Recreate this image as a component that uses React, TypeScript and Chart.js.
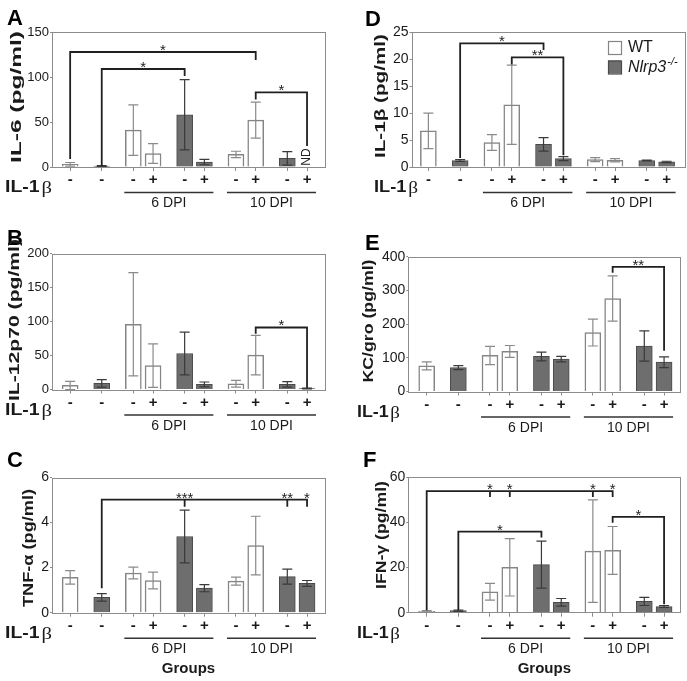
import React, { useEffect, useRef } from 'react';
import { Chart, registerables } from 'chart.js';

Chart.register(...registerables);

const SANS = '"Liberation Sans", Arial, Helvetica, sans-serif';
Chart.defaults.font.family = SANS;

// ---------- data ----------
const groups = ['Control', 'Control', '6 DPI', '6 DPI', '6 DPI', '6 DPI', '10 DPI', '10 DPI', '10 DPI', '10 DPI'];
const genotypes = ['WT', 'Nlrp3', 'WT', 'WT', 'Nlrp3', 'Nlrp3', 'WT', 'WT', 'Nlrp3', 'Nlrp3'];
const il1bTreatment = ['-', '-', '-', '+', '-', '+', '-', '+', '-', '+'];
const dpiGroups = ['6 DPI', '10 DPI'];

const il6Mean = [3, 1, 41, 15, 58, 5.5, 14, 52, 9.5, null]; // last: ND
const il6Err = [2, 0.6, 28, 11, 39, 3, 3.5, 20, 7.5, 0];
const il12Mean = [6, 9, 96, 35, 53, 7.5, 8.5, 50.5, 7.5, 1.5];
const il12Err = [6, 5.5, 76, 32, 31.5, 3.5, 5, 29, 4, 0.6];
const tnfMean = [1.57, 0.68, 1.76, 1.43, 3.38, 1.09, 1.4, 2.98, 1.6, 1.3];
const tnfErr = [0.3, 0.17, 0.26, 0.37, 1.17, 0.16, 0.18, 1.3, 0.33, 0.13];
const il1bMean = [6.7, 1.2, 4.55, 11.55, 4.2, 1.55, 1.37, 1.24, 1.2, 0.95];
const il1bErr = [3.3, 0.18, 1.45, 7.35, 1.27, 0.37, 0.37, 0.3, 0.08, 0.12];
const kcMean = [76, 71, 107, 119, 104, 96, 175, 276, 135, 87];
const kcErr = [12, 6, 27, 17.5, 13, 8, 40, 67, 45, 16];
const ifnMean = [0.6, 0.9, 9.3, 20.1, 21.3, 4.6, 27.3, 27.6, 5.0, 2.7];
const ifnErr = [0.3, 0.3, 3.7, 12.7, 10.4, 1.7, 22.7, 10.6, 1.8, 0.4];

const il6Ticks = [0, 150, 50];
const il12Ticks = [0, 200, 50];
const tnfTicks = [0, 6, 2];
const il1bTicks = [0, 25, 5];
const kcTicks = [0, 400, 100];
const ifnTicks = [0, 60, 20];

// significance brackets: y = bracket height (data units), legs end at data values
const il6Brackets = [
  { y: 127.8, legs: [{ at: 0, end: 10 }, { at: 7, end: 120 }], label: '*' },
  { y: 108.9, legs: [{ at: 1, end: 2.2 }, { at: 4, end: 102 }], label: '*' },
  { y: 83, legs: [{ at: 7, end: 76 }, { at: 9, end: 24.4 }], label: '*' },
];
const il12Brackets = [
  { y: 91.2, legs: [{ at: 7, end: 83.2 }, { at: 9, end: 3.4 }], label: '*' },
];
const tnfBrackets = [
  { y: 5.02, legs: [{ at: 1, end: 1.12 }, { at: 4, end: 4.74, label: '***' }, { at: 8, end: 4.74, label: '**' }, { at: 9, end: 4.74, label: '*' }] },
];
const il1bBrackets = [
  { y: 22.95, legs: [{ at: 1, end: 1.86 }, { at: 4, end: 21.9 }], label: '*' },
  { y: 20.35, legs: [{ at: 3, end: 19.2 }, { at: 5, end: 2.36 }], label: '**' },
];
const kcBrackets = [
  { y: 370, legs: [{ at: 7, end: 355 }, { at: 9, end: 123.5 }], label: '**' },
];
const ifnBrackets = [
  { y: 53.9, legs: [{ at: 0, end: 1.5 }, { at: 2, end: 51.7, label: '*' }, { at: 3, end: 51.7, label: '*' }, { at: 6, end: 51.7, label: '*' }, { at: 7, end: 51.7, label: '*' }] },
  { y: 35.9, legs: [{ at: 1, end: 1.5 }, { at: 4, end: 33.7 }], label: '*' },
  { y: 42.5, legs: [{ at: 7, end: 40.3 }, { at: 9, end: 4.1 }], label: '*' },
];

// ---------- layout / style ----------
const slotX = [0, 8, 16, 21, 29, 34, 42, 47, 55, 60];
const FRAME = '#8c8c8c';
const WT_BORDER = '#858585';
const KO_FILL = '#6e6e6e';
const KO_BORDER = '#4a4a4a';
const ERR_WT = '#8a8a8a';
const ERR_KO = '#3a3a3a';
const INK = '#1a1a1a';

type Leg = { at: number; end: number; label?: string };
type Bracket = { y: number; legs: Leg[]; label?: string };

type Spec = {
  letter: string; letterX: number; letterY: number;
  yTitle: string; titleLen: number; titleX: number; titleY: number;
  mean: (number | null)[]; err: number[]; ticks: number[]; tickSize: number;
  brackets: Bracket[];
  canvas: { x: number; y: number; w: number; h: number };
  area: { l: number; r: number; t: number; b: number };
  xMin: number; xMax: number;
  il1bX: number; il1bLen: number;
  groupsTitle?: boolean; legend?: boolean;
};

const specs: Spec[] = [
  {
    letter: 'A', letterX: 7, letterY: 25, yTitle: 'IL-6 (pg/ml)', titleLen: 132, titleX: 17, titleY: 97,
    mean: il6Mean, err: il6Err, ticks: il6Ticks, tickSize: 13, brackets: il6Brackets,
    canvas: { x: 0, y: 0, w: 340, h: 225 }, area: { l: 52, r: 325, t: 32, b: 167 },
    xMin: -4.6, xMax: 64.55, il1bX: 5, il1bLen: 47,
  },
  {
    letter: 'B', letterX: 7, letterY: 245, yTitle: 'IL-12p70 (pg/ml)', titleLen: 162, titleX: 15, titleY: 320,
    mean: il12Mean, err: il12Err, ticks: il12Ticks, tickSize: 13, brackets: il12Brackets,
    canvas: { x: 0, y: 225, w: 340, h: 225 }, area: { l: 52, r: 325, t: 253.5, b: 389.5 },
    xMin: -4.6, xMax: 64.55, il1bX: 5, il1bLen: 47,
  },
  {
    letter: 'C', letterX: 7, letterY: 467, yTitle: 'TNF-\u03b1 (pg/ml)', titleLen: 118, titleX: 29, titleY: 548,
    mean: tnfMean, err: tnfErr, ticks: tnfTicks, tickSize: 14, brackets: tnfBrackets,
    canvas: { x: 0, y: 450, w: 340, h: 231 }, area: { l: 52, r: 325, t: 477.5, b: 612.7 },
    xMin: -4.6, xMax: 64.55, il1bX: 5, il1bLen: 47, groupsTitle: true,
  },
  {
    letter: 'D', letterX: 365, letterY: 26, yTitle: 'IL-1\u03b2 (pg/ml)', titleLen: 124, titleX: 381, titleY: 96,
    mean: il1bMean, err: il1bErr, ticks: il1bTicks, tickSize: 14, brackets: il1bBrackets,
    canvas: { x: 340, y: 0, w: 347, h: 225 }, area: { l: 411.5, r: 684.5, t: 32.3, b: 167 },
    xMin: -4.25, xMax: 64.5, il1bX: 374, il1bLen: 44, legend: true,
  },
  {
    letter: 'E', letterX: 365, letterY: 250, yTitle: 'KC/gro (pg/ml)', titleLen: 123, titleX: 369, titleY: 321,
    mean: kcMean, err: kcErr, ticks: kcTicks, tickSize: 14, brackets: kcBrackets,
    canvas: { x: 340, y: 225, w: 347, h: 225 }, area: { l: 408.3, r: 680.3, t: 256.7, b: 391.5 },
    xMin: -4.65, xMax: 64.1, il1bX: 357, il1bLen: 43,
  },
  {
    letter: 'F', letterX: 363, letterY: 467, yTitle: 'IFN-\u03b3 (pg/ml)', titleLen: 108, titleX: 382, titleY: 535,
    mean: ifnMean, err: ifnErr, ticks: ifnTicks, tickSize: 14, brackets: ifnBrackets,
    canvas: { x: 340, y: 450, w: 347, h: 231 }, area: { l: 408.3, r: 680.3, t: 477.3, b: 612.7 },
    xMin: -4.65, xMax: 64.1, il1bX: 357, il1bLen: 43, groupsTitle: true,
  },
];

function makeDecor(spec: Spec) {
  return {
    id: 'decor' + spec.letter,
    afterDatasetsDraw(chart: any) {
      const ctx = chart.ctx;
      const xs = chart.scales.x;
      const ys = chart.scales.y;
      ctx.save();
      ctx.lineWidth = 1.2;
      spec.mean.forEach((m, i) => {
        if (m == null) return;
        const e = spec.err[i];
        if (!e) return;
        const px = xs.getPixelForValue(slotX[i]);
        const top = ys.getPixelForValue(m + e);
        const bot = ys.getPixelForValue(Math.max(0, m - e));
        ctx.strokeStyle = genotypes[i] === 'WT' ? ERR_WT : ERR_KO;
        ctx.beginPath();
        ctx.moveTo(px, top); ctx.lineTo(px, bot);
        ctx.moveTo(px - 5, top); ctx.lineTo(px + 5, top);
        ctx.moveTo(px - 5, bot); ctx.lineTo(px + 5, bot);
        ctx.stroke();
      });
      ctx.restore();
    },
    afterDraw(chart: any) {
      const ctx = chart.ctx;
      const a = chart.chartArea;
      const xs = chart.scales.x;
      const ys = chart.scales.y;
      const ox = spec.canvas.x;
      const oy = spec.canvas.y;
      ctx.save();
      // frame
      ctx.strokeStyle = FRAME;
      ctx.lineWidth = 1;
      ctx.strokeRect(Math.round(a.left) + 0.5, Math.round(a.top) + 0.5, Math.round(a.right - a.left), Math.round(a.bottom - a.top));

      // brackets
      for (const b of spec.brackets) {
        const yl = ys.getPixelForValue(b.y);
        const x0 = xs.getPixelForValue(slotX[b.legs[0].at]);
        const x1 = xs.getPixelForValue(slotX[b.legs[b.legs.length - 1].at]);
        ctx.strokeStyle = '#202020';
        ctx.lineWidth = 1.8;
        ctx.lineCap = 'square';
        ctx.beginPath();
        ctx.moveTo(x0, yl); ctx.lineTo(x1, yl);
        for (const leg of b.legs) {
          const lx = xs.getPixelForValue(slotX[leg.at]);
          ctx.moveTo(lx, yl);
          ctx.lineTo(lx, ys.getPixelForValue(leg.end));
        }
        ctx.stroke();
        ctx.fillStyle = '#222';
        ctx.font = `15px ${SANS}`;
        ctx.textAlign = 'center';
        ctx.textBaseline = 'alphabetic';
        if (b.label) ctx.fillText(b.label, (x0 + x1) / 2, yl + 3);
        for (const leg of b.legs) {
          if (leg.label) ctx.fillText(leg.label, xs.getPixelForValue(slotX[leg.at]), yl + 3);
        }
      }

      // ND (not detected) marks
      spec.mean.forEach((m, i) => {
        if (m != null) return;
        ctx.save();
        ctx.translate(xs.getPixelForValue(slotX[i]), ys.getPixelForValue(0) - 10);
        ctx.rotate(-Math.PI / 2);
        ctx.font = `12px ${SANS}`;
        ctx.fillStyle = '#222';
        ctx.textAlign = 'center';
        ctx.textBaseline = 'middle';
        ctx.fillText('ND', 0, 0);
        ctx.restore();
      });

      const base = a.bottom;
      ctx.fillStyle = INK;
      // IL-1β row label (stretched to match)
      ctx.save();
      ctx.textAlign = 'left';
      ctx.textBaseline = 'middle';
      const fBold = `bold 16px ${SANS}`;
      const fBeta = `17px "Liberation Serif", "DejaVu Serif", serif`;
      ctx.font = fBold;
      const w1 = ctx.measureText('IL-1').width;
      ctx.font = fBeta;
      const w2 = ctx.measureText('\u03b2').width;
      const sx = spec.il1bLen / (w1 + 1.5 + w2);
      ctx.translate(spec.il1bX - ox, base + 21);
      ctx.scale(sx, 1);
      ctx.font = fBold;
      ctx.fillText('IL-1', 0, 0);
      ctx.font = fBeta;
      ctx.fillText('\u03b2', w1 + 1.5, 1);
      ctx.restore();

      // DPI group lines
      for (const g of dpiGroups) {
        const i0 = groups.indexOf(g);
        const i1 = groups.lastIndexOf(g);
        const x0 = xs.getPixelForValue(slotX[i0]) - 9;
        const x1 = xs.getPixelForValue(slotX[i1]) + 9;
        ctx.strokeStyle = '#333';
        ctx.lineWidth = 1.5;
        ctx.lineCap = 'butt';
        ctx.beginPath();
        ctx.moveTo(x0, base + 25.5);
        ctx.lineTo(x1, base + 25.5);
        ctx.stroke();
        ctx.font = `14px ${SANS}`;
        ctx.textAlign = 'center';
        ctx.textBaseline = 'middle';
        ctx.fillStyle = INK;
        ctx.fillText(g, (x0 + x1) / 2, base + 36.5);
      }

      if (spec.groupsTitle) {
        ctx.font = `bold 15px ${SANS}`;
        ctx.textAlign = 'center';
        ctx.textBaseline = 'middle';
        ctx.fillText('Groups', (a.left + a.right) / 2, base + 56.5);
      }

      // panel letter
      ctx.font = `bold 22px ${SANS}`;
      ctx.textAlign = 'left';
      ctx.textBaseline = 'alphabetic';
      ctx.fillStyle = '#000';
      ctx.fillText(spec.letter, spec.letterX - ox, spec.letterY - oy);

      // y-axis title (stretched along its length)
      ctx.save();
      ctx.translate(spec.titleX - ox, spec.titleY - oy);
      ctx.rotate(-Math.PI / 2);
      ctx.font = `bold 15px ${SANS}`;
      const tw = ctx.measureText(spec.yTitle).width;
      ctx.scale(spec.titleLen / tw, 1);
      ctx.textAlign = 'center';
      ctx.textBaseline = 'middle';
      ctx.fillStyle = INK;
      ctx.fillText(spec.yTitle, 0, 0);
      ctx.restore();

      // legend
      if (spec.legend) {
        const bx = 608 - ox;
        ctx.lineWidth = 1.2;
        ctx.fillStyle = '#fff';
        ctx.strokeStyle = WT_BORDER;
        ctx.fillRect(bx, 41 - oy, 13, 13);
        ctx.strokeRect(bx + 0.5, 41.5 - oy, 13, 13);
        ctx.fillStyle = KO_FILL;
        ctx.strokeStyle = KO_BORDER;
        ctx.fillRect(bx, 60.5 - oy, 13, 13);
        ctx.strokeRect(bx + 0.5, 61 - oy, 13, 13);
        ctx.fillStyle = INK;
        ctx.textAlign = 'left';
        ctx.textBaseline = 'middle';
        ctx.font = `16px ${SANS}`;
        ctx.fillText('WT', 628 - ox, 48 - oy);
        ctx.font = `italic 16px ${SANS}`;
        ctx.fillText('Nlrp3', 628 - ox, 67.5 - oy);
        const nw = ctx.measureText('Nlrp3').width;
        ctx.font = `italic 11px ${SANS}`;
        ctx.fillText('-/-', 628 - ox + nw + 1, 61.5 - oy);
      }
      ctx.restore();
    },
  };
}

function Panel({ spec }: { spec: Spec }) {
  const ref = useRef<HTMLCanvasElement>(null);
  useEffect(() => {
    const canvas = ref.current;
    if (!canvas) return;
    const c = spec.canvas;
    const area = spec.area;
    const wtData: any[] = [];
    const koData: any[] = [];
    spec.mean.forEach((m, i) => {
      (genotypes[i] === 'WT' ? wtData : koData).push({ x: slotX[i], y: m });
    });
    const chart = new Chart(canvas, {
      type: 'bar',
      data: {
        datasets: [
          { label: 'WT', data: wtData, backgroundColor: '#ffffff', borderColor: WT_BORDER, borderWidth: 1.5, barThickness: 16, grouped: false },
          { label: 'Nlrp3-/-', data: koData, backgroundColor: KO_FILL, borderColor: KO_BORDER, borderWidth: 1, barThickness: 16, grouped: false },
        ],
      } as any,
      options: {
        responsive: false,
        animation: false,
        devicePixelRatio: 1,
        layout: { padding: { left: 0, top: area.t - c.y, right: c.x + c.w - area.r, bottom: 0 } },
        plugins: { legend: { display: false }, tooltip: { enabled: false } },
        scales: {
          x: {
            type: 'linear',
            min: spec.xMin,
            max: spec.xMax,
            offset: false,
            afterFit: (s: any) => { s.height = c.y + c.h - area.b; },
            afterBuildTicks: (s: any) => { s.ticks = slotX.map((v) => ({ value: v })); },
            grid: { display: true, drawOnChartArea: false, drawTicks: true, tickLength: 4, color: FRAME, offset: false },
            border: { display: false },
            ticks: {
              autoSkip: false, maxRotation: 0, minRotation: 0, padding: 0, color: INK,
              font: { size: 15, weight: 'bold' },
              callback: (_v: any, i: number) => il1bTreatment[i],
            },
          },
          y: {
            type: 'linear',
            min: spec.ticks[0],
            max: spec.ticks[1],
            afterFit: (s: any) => { s.width = area.l - c.x; },
            ticks: { stepSize: spec.ticks[2], padding: 1, color: INK, font: { size: spec.tickSize } },
            grid: { drawOnChartArea: false, drawTicks: true, tickLength: 2, color: FRAME },
            border: { display: false },
          },
        },
      } as any,
      plugins: [makeDecor(spec)],
    });
    return () => chart.destroy();
  }, [spec]);
  return (
    <canvas
      ref={ref}
      width={spec.canvas.w}
      height={spec.canvas.h}
      style={{ position: 'absolute', left: spec.canvas.x, top: spec.canvas.y, width: spec.canvas.w, height: spec.canvas.h }}
    />
  );
}

export default function App() {
  return (
    <div style={{ position: 'absolute', left: 0, top: 0, width: 687, height: 681, background: '#ffffff', overflow: 'hidden' }}>
      {specs.map((s) => (
        <Panel key={s.letter} spec={s} />
      ))}
    </div>
  );
}
